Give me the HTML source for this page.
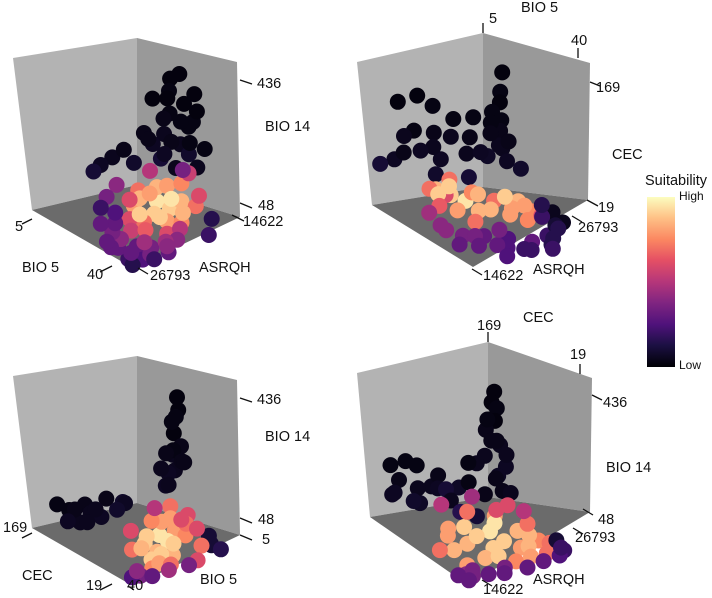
<!DOCTYPE html>
<html><head><meta charset="utf-8"><style>
html,body{margin:0;padding:0;background:#fff}
svg{display:block}
text{font-family:"Liberation Sans",sans-serif;font-size:14.5px;fill:#111;dominant-baseline:middle}
</style></head><body>
<svg id="chart" width="712" height="598" viewBox="0 0 712 598">
<defs>
<linearGradient id="magma" x1="0" y1="1" x2="0" y2="0">
<stop offset="0" stop-color="#000004"/><stop offset="0.13" stop-color="#1c1044"/><stop offset="0.25" stop-color="#4f127b"/><stop offset="0.38" stop-color="#812581"/><stop offset="0.5" stop-color="#b5367a"/><stop offset="0.63" stop-color="#e55064"/><stop offset="0.75" stop-color="#fb8761"/><stop offset="0.88" stop-color="#fec287"/><stop offset="1" stop-color="#fcfdbf"/>
</linearGradient>
</defs>
<g id="panels"></g>
<g>
<text x="645" y="181">Suitability</text>
<rect x="647" y="197" width="28" height="170" fill="url(#magma)"/>
<text x="679" y="197" style="font-size:12px">High</text>
<text x="679" y="366" style="font-size:12px">Low</text>
</g>
</svg>
<script>
// Panel A: BIO5, ASRQH, BIO14, suitability
const ptsA = [[20,15800,420,0.02],[22,15400,440,0.02],[19,15600,380,0.03],[23,15200,360,0.02],[21,16200,330,0.03],[18,15900,300,0.04],[24,15000,300,0.03],[20,16500,270,0.05],[23,15600,250,0.05],[17,16800,230,0.06],[25,15300,230,0.08],[21,17200,210,0.1],
[16,16500,350,.02],[26,15000,400,.02],[27,15500,330,.03],[28,16200,280,.03],[16,17500,260,.04],[29,14800,260,.03],[25,16800,200,.05],[18,15000,230,.04],[26,14700,350,.02],[22,16800,380,.02],[30,16000,220,.05],[19,18000,260,.04],[24,17800,240,.06],[21,14900,300,.03],
[14,20500,200,0.05],[15,19500,220,0.04],[13,21500,180,0.06],[17,19000,190,0.08],[12,22000,160,0.1],
[25,19000,120,0.95],[28,18500,110,0.9],[22,18000,140,0.85],[27,20000,100,0.9],[30,19500,90,0.8],[24,17500,150,0.8],[26,16500,160,0.75],[29,17500,130,0.85],[20,19500,130,0.7],[32,18500,90,0.75],[23,21000,110,0.8],[28,21500,90,0.7],[31,16500,120,0.7],[19,17800,170,0.5],[33,20500,75,0.6],[26,22500,95,0.6],[27,16000,190,0.55],[30,15800,140,0.6],
[22,20000,120,.85],[25,21000,95,.9],[29,20000,100,.9],[27,18000,130,.95],[24,19500,140,.8],[31,18000,110,.85],[20,20500,110,.6],[33,19000,80,.5],[28,23000,75,.55],[30,22000,80,.65],[17,21000,140,.4],[18,22500,120,.35],[35,20000,65,.4],[25,16000,190,.35],
[35,16000,100,0.15],[37,17000,70,0.2],
[33,24000,60,0.3],[35,23000,60,0.35],[38,25000,52,0.25],[36,26000,50,0.2],[31,25500,55,0.3],[29,24500,65,0.4],[38,22000,55,0.3],[34,21000,60,0.45],[26,24500,70,0.35],[24,23500,80,0.3],[39,26500,50,0.15],[21,22500,90,0.25],
[30,26000,55,.3],[34,25000,52,.3],[37,23800,55,.35],[32,22800,60,.45],[28,25800,60,.3],[36,21500,60,.4],[22,24500,75,.3],[19,23500,100,.2],[39,24000,52,.2]];
// Panel B: BIO5, ASRQH, CEC, suitability
const ptsB = [[15.5,25576,199,0.02],[16,25200,175,0.03],[14,25800,155,0.02],[17,25000,140,0.03],[15,25500,120,0.04],[18,24800,105,0.05],[13,26000,95,0.05],
[16,24300,150,.03],[14,24800,130,.03],[17,25800,110,.04],[19,25000,90,.06],[20,26200,80,.08],[12,25400,110,.04],
[8,16500,160,0.02],[10,18000,170,0.02],[9,20000,150,0.03],[12,17000,130,0.03],[11,19500,120,0.04],[13,21000,140,0.03],[7,17500,110,0.05],[14,22500,115,0.04],[12,23500,135,0.03],[10,15500,90,0.06],[15,19000,95,0.06],[16,21500,100,0.05],[17,23500,95,0.07],[9,22000,105,0.05],[18,17500,85,0.08],[6,15200,75,0.1],[20,20500,80,0.1],
[11,16200,100,.04],[14,18500,110,.05],[8,19000,90,.06],[13,24000,90,.06],
[20,18500,60,0.9],[22,19500,55,0.95],[18,17500,65,0.85],[24,18000,50,0.8],[21,20500,62,0.75],[25,20000,48,0.85],[19,16500,70,0.7],[26,24000,55,0.85],[27,23000,50,0.8],[28,24800,45,0.75],[24,22000,55,0.7],[23,17000,70,0.6],
[20,21500,55,.85],[22,16500,70,.9],[26,21000,50,.85],[23,23500,55,.9],[28,22500,45,.8],[25,25000,45,.8],[18,19000,75,.7],[21,18000,75,.9],[30,23800,40,.75],[24,16000,60,.65],[27,19000,40,.7],[29,25600,40,.6],
[30,26500,45,0.05],[33,26700,38,0.05],
[30,19000,28,0.3],[32,21000,25,0.25],[34,23000,22,0.3],[33,25000,24,0.2],[36,24500,20,0.15],[29,17000,30,0.35],[31,16000,25,0.3],[35,20000,22,0.25],[28,26000,35,0.2],[31,26500,30,0.1],[26,15500,40,0.4],[37,22000,20,0.2],
[27,15800,35,.4],[30,18000,30,.35],[33,19500,22,.3],[36,21500,20,.2],[35,25000,25,.15],[32,26500,28,.15],[29,21000,30,.35],[33,17500,25,.3],[38,24000,20,.2],[26,26600,45,.15],[23,15200,50,.45],[38,19000,20,.25]];
// Panel C: CEC, BIO5, BIO14, suitability
const ptsC = [[94,8.5,430,0.02],[90,9,400,0.02],[98,8,370,0.03],[92,10,335,0.02],[88,8.5,300,0.04],[96,9.5,270,0.05],[86,11,240,0.05],[100,10,215,0.06],
[104,8,350,.03],[84,12,300,.03],[108,9,260,.04],[80,10,270,.04],[102,12,230,.05],[90,7,250,.04],[95,12,190,.06],[82,14,210,.05],
[154,35,120,0.03],[145,33,110,0.03],[135,30,130,0.04],[124,34,100,0.05],[140,27,95,0.05],[115,29,115,0.06],[130,24,140,0.04],[110,23,150,0.08],
[150,30,100,.04],[128,28,120,.05],[118,33,105,.05],[138,35,90,.06],[120,20,130,.06],[105,26,140,.08],
[45,8,70,0.1],[55,6,60,0.1],[70,10,90,0.15],[60,5.5,75,.1],[40,6,60,.15],
[64,26,90,0.9],[60,22,110,0.95],[50,25,80,0.85],[70,19,130,0.8],[45,28,70,0.9],[55,18,120,0.8],[40,22,75,0.85],[75,15,160,0.7],[35,30,60,0.75],[65,30,80,0.7],[48,16,110,0.75],[80,27,110,0.6],[58,13,150,0.6],
[70,24,100,.9],[60,28,85,.85],[52,21,100,.95],[66,17,140,.8],[44,25,80,.9],[38,27,65,.8],[76,21,130,.75],[56,14,130,.7],[48,20,95,.9],[85,18,150,.5],[34,24,60,.7],[62,9,100,.6],[72,12,120,.6],[42,12,80,.7],[30,16,60,.6],
[30,35,55,0.35],[26,32,52,0.3],[34,37,50,0.25],[28,26,55,0.45],[40,34,55,0.4],[25,20,60,0.35]];
// Panel D: CEC, ASRQH, BIO14, suitability
const ptsD = [[124,24400,480,0.02],[122,24000,450,0.02],[126,24800,420,0.03],[120,24200,390,0.02],[128,23800,350,0.04],[118,24600,310,0.05],[125,23500,270,0.05],[115,25000,240,0.06],
[130,24100,380,.03],[118,23700,330,.04],[132,25200,300,.04],[120,25400,270,.05],[112,24000,220,.06],[130,23000,240,.05],
[150,17000,250,0.03],[145,16000,200,0.04],[155,18500,220,0.03],[140,19000,170,0.05],[148,15500,150,0.06],[135,17500,130,0.07],[152,20500,180,0.04],
[158,16000,230,.03],[146,18000,160,.05],[140,15200,170,.06],[130,16500,150,.08],[145,20000,150,.06],[135,21500,160,.07],[125,19500,180,.1],
[120,21500,200,.03],[110,22500,170,.04],[125,20000,140,.05],[105,24000,180,.04],[115,25500,150,.05],[100,21000,120,.1],[128,22000,250,.03],[108,23500,220,.04],[118,20500,110,.15],
[90,19000,110,0.9],[80,21000,100,0.95],[70,18000,90,0.85],[95,22500,120,0.8],[60,20000,80,0.9],[75,23500,95,0.85],[85,17000,100,0.8],[55,22500,75,0.8],[65,25000,70,0.75],[100,20000,140,0.7],[50,18500,70,0.85],[45,24500,60,0.7],[40,21000,60,0.75],[105,24500,130,0.6],[110,18000,160,0.5],
[88,22000,110,.95],[78,19500,95,.9],[66,21500,85,.9],[72,24500,80,.85],[58,23500,70,.85],[82,25000,100,.7],[92,17500,110,.8],[68,16500,80,.85],[52,20000,65,.9],[48,16500,60,.8],[44,22800,60,.8],[100,23000,130,.6],[60,25800,65,.7],[115,21500,160,.45],[95,25500,120,.5],[75,15500,75,.7],
[45,26300,60,0.2],[60,26500,70,0.1],
[35,15500,55,0.4],[40,16500,55,0.35],[30,17500,52,0.3],[38,14900,50,0.3],[35,19500,55,0.35],
[32,16000,50,.35],[28,19000,50,.3],[30,21500,52,.3],[35,23500,55,.3],[40,25500,55,.25],[50,26300,62,.2],[26,15200,50,.3]];

const magma = [[0,0,0,4],[0.13,28,16,68],[0.25,79,18,123],[0.38,129,37,129],[0.5,181,54,122],[0.63,229,80,100],[0.75,251,135,97],[0.88,254,194,135],[1,252,253,191]];
function color(s){
  for(let i=1;i<magma.length;i++){ if(s<=magma[i][0]){ const a=magma[i-1],b=magma[i],t=(s-a[0])/(b[0]-a[0]);
    return 'rgb('+[1,2,3].map(k=>Math.round(a[k]+(b[k]-a[k])*t)).join(',')+')'; } }
  return 'rgb(252,253,191)';
}
const NS='http://www.w3.org/2000/svg';
function mk(tag,attrs,parent){const e=document.createElementNS(NS,tag);for(const k in attrs)e.setAttribute(k,attrs[k]);parent.appendChild(e);return e;}

const panels = [
 {name:'panel-bio5-asrqh-bio14', pts:ptsA, L:[32,210],B:[137,185],R:[240,217],F:[133,268],H:148,TL:[13,58],TB:[137,38],TR:[237,62],
  u:v=>(v[0]-5)/35, w:v=>(26793-v[1])/12171, h:v=>(v[2]-48)/412},
 {name:'panel-bio5-asrqh-cec', pts:ptsB, L:[372,205],B:[483,187],R:[588,200],F:[473,267],H:150,TL:[357,62],TB:[483,33],TR:[590,63],
  u:v=>(v[0]-5)/35, w:v=>(v[1]-14622)/12171, h:v=>(v[2]-19)/200},
 {name:'panel-cec-bio5-bio14', pts:ptsC, L:[32,528],B:[137,503],R:[240,535],F:[133,586],H:148,TL:[13,376],TB:[137,356],TR:[237,380],
  u:v=>(169-v[0])/150, w:v=>(40-v[1])/35, h:v=>(v[2]-48)/412},
 {name:'panel-cec-asrqh-bio14', pts:ptsD, L:[370,517],B:[488,497],R:[590,512],F:[468,585],H:150,TL:[357,373],TB:[488,342],TR:[592,378],
  u:v=>(169-v[0])/150, w:v=>(v[1]-14622)/12171, h:v=>(v[2]-48)/500}
];
const root=document.getElementById('panels');
panels.forEach(p=>{
  const g=mk('g',{},root);
  
  
  const P=a=>a.join(',');
  const lw=mk('polygon',{points:[P(p.TL),P(p.TB),P(p.B),P(p.L)].join(' '),fill:'#b3b3b3'},g);
  
  
  const rw=mk('polygon',{points:[P(p.TB),P(p.TR),P(p.R),P(p.B)].join(' '),fill:'#999999'},g);
  
  
  const fl=mk('polygon',{points:[P(p.L),P(p.B),P(p.R),P(p.F)].join(' '),fill:'#6b6b6b'},g);
  
  
  const du=[p.F[0]-p.L[0],p.F[1]-p.L[1]], dw=[p.B[0]-p.L[0],p.B[1]-p.L[1]];
  p.pts.forEach(v=>{
    const u=p.u(v), w=p.w(v), h=p.h(v);
    const x=p.L[0]+du[0]*u+dw[0]*w, y=p.L[1]+du[1]*u+dw[1]*w-p.H*h;
    const c=mk('circle',{cx:x.toFixed(1),cy:y.toFixed(1),r:8,fill:color(v[3])},g);
    
    
  });
});
</script>
<svg width="712" height="598" style="position:absolute;left:0;top:0">
<g stroke="#111" stroke-width="1.3">
<line x1="240" y1="80" x2="252" y2="84"/><line x1="240" y1="203" x2="252" y2="208"/><line x1="232" y1="215" x2="244" y2="221"/><line x1="22" y1="224" x2="32" y2="219"/><line x1="100" y1="272" x2="112" y2="266"/><line x1="138" y1="268" x2="148" y2="274"/>
<line x1="483" y1="23" x2="483" y2="33"/><line x1="578" y1="48" x2="578" y2="58"/><line x1="590" y1="82" x2="600" y2="86"/><line x1="587" y1="200" x2="598" y2="206"/><line x1="572" y1="216" x2="582" y2="222"/><line x1="472" y1="269" x2="482" y2="275"/>
<line x1="240" y1="398" x2="252" y2="402"/><line x1="240" y1="518" x2="252" y2="523"/><line x1="240" y1="535" x2="252" y2="540"/><line x1="22" y1="538" x2="32" y2="533"/><line x1="100" y1="590" x2="112" y2="584"/><line x1="128" y1="586" x2="134" y2="590"/>
<line x1="488" y1="332" x2="488" y2="342"/><line x1="580" y1="364" x2="580" y2="374"/><line x1="592" y1="395" x2="602" y2="400"/><line x1="583" y1="509" x2="593" y2="515"/><line x1="573" y1="528" x2="583" y2="534"/><line x1="482" y1="580" x2="492" y2="586"/>
</g>
<text x="257" y="84">436</text><text x="265" y="127">BIO 14</text><text x="258" y="206">48</text><text x="243" y="222">14622</text><text x="15" y="227">5</text><text x="22" y="268">BIO 5</text><text x="87" y="275">40</text><text x="150" y="276">26793</text><text x="199" y="268">ASRQH</text>
<text x="521" y="8">BIO 5</text><text x="489" y="19">5</text><text x="571" y="41">40</text><text x="596" y="88">169</text><text x="612" y="155">CEC</text><text x="598" y="208">19</text><text x="578" y="228">26793</text><text x="533" y="270">ASRQH</text><text x="483" y="276">14622</text>
<text x="257" y="400">436</text><text x="265" y="437">BIO 14</text><text x="258" y="520">48</text><text x="262" y="540">5</text><text x="3" y="528">169</text><text x="22" y="576">CEC</text><text x="86" y="586">19</text><text x="127" y="586">40</text><text x="200" y="580">BIO 5</text>
<text x="523" y="318">CEC</text><text x="477" y="326">169</text><text x="570" y="355">19</text><text x="603" y="403">436</text><text x="606" y="468">BIO 14</text><text x="598" y="520">48</text><text x="575" y="538">26793</text><text x="533" y="580">ASRQH</text><text x="483" y="590">14622</text>
</svg>
</body></html>
